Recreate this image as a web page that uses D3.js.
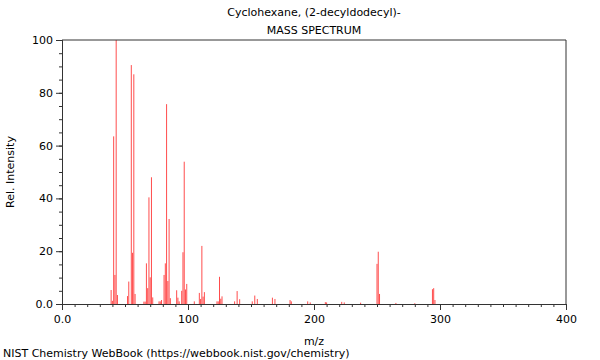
<!DOCTYPE html>
<html>
<head>
<meta charset="utf-8">
<script src="https://cdn.jsdelivr.net/npm/d3@7"></script>
<style>
  body { margin: 0; background: #fff; }
  text { font-family: "DejaVu Sans", sans-serif; }
</style>
</head>
<body>
<div id="graph"></div>
<script>
// Peak list
const mz = [39, 40, 41, 42, 43, 44, 52, 53, 55, 56, 57, 58, 65, 66, 67, 68, 69, 70, 71, 72,
  77, 78, 79, 81, 82, 83, 84, 85, 86, 91, 92, 93, 95, 96, 97, 98, 99, 105, 109, 110, 111, 112, 113,
  123, 124, 125, 126, 127, 137, 139, 141, 151, 153, 155, 167, 169, 181, 182, 195, 197, 209, 210,
  222, 224, 237, 250, 251, 252, 265, 280, 294, 295, 296]
const intensity = [5.3, 1.2, 63.5, 11, 100, 3.4, 3, 8.5, 90.5, 19.4, 87, 3.8, 0.9, 0.9, 15.4, 6, 40.4, 10.1, 48, 2.5,
  1, 1, 1.5, 11, 15.4, 75.7, 8.7, 32.2, 2.2, 5.2, 2.4, 1, 5, 19.6, 53.9, 5.5, 7.6, 1, 4.2, 1.9, 22, 2.8, 4.5,
  1, 1, 10.3, 2, 2.9, 1, 4.9, 1.8, 1, 3.2, 1.9, 2.4, 1.9, 1.5, 1, 1, 0.6, 0.7, 0.6,
  0.8, 0.6, 0.5, 15.2, 19.8, 3.8, 0.4, 0.3, 5.6, 6, 1.5]

const xTicks = [0, 100, 200, 300, 400]
const xTickLabels = ['0.0', '100', '200', '300', '400']
const yTicks = [0, 20, 40, 60, 80, 100]
const yTickLabels = ['0.0', '20', '40', '60', '80', '100']

const title = 'Cyclohexane, (2-decyldodecyl)-'
const subtitle = 'MASS SPECTRUM'
const footer = 'NIST Chemistry WebBook (https://webbook.nist.gov/chemistry)'

const W = 600, H = 360
const margin = { top: 40, right: 34, bottom: 56, left: 62 },
  width = W - margin.left - margin.right,
  height = H - margin.top - margin.bottom

const axisColor = '#333'

const svg = d3.select('#graph')
  .append('svg')
  .attr('width', W)
  .attr('height', H)

const g = svg.append('g')
  .attr('transform', 'translate(' + margin.left + ',' + margin.top + ')')

const x = d3.scaleLinear().domain([0, 400]).range([0, width])
const y = d3.scaleLinear().domain([0, 100]).range([height, 0])

// Peaks
g.selectAll('.peak')
  .data(mz)
  .enter()
  .append('line')
  .attr('class', 'peak')
  .attr('x1', d => x(d))
  .attr('x2', d => x(d))
  .attr('y1', y(0))
  .attr('y2', (d, i) => y(intensity[i]))
  .attr('stroke', '#ff0000')
  .attr('stroke-opacity', 0.7)
  .attr('stroke-width', 1)

// X axis: minor ticks every 10, major every 100
const xAxis = g.append('g').attr('transform', 'translate(0,' + height + ')')
xAxis.call(d3.axisBottom(x).tickValues(d3.range(0, 401, 10)).tickSize(3).tickFormat(''))
const xMajor = g.append('g').attr('transform', 'translate(0,' + height + ')')
xMajor.call(d3.axisBottom(x).tickValues(xTicks).tickSize(6).tickPadding(5)
  .tickFormat((d, i) => xTickLabels[i]))

// Y axis: minor ticks every 5, major every 20
const yAxis = g.append('g')
yAxis.call(d3.axisLeft(y).tickValues(d3.range(0, 101, 5)).tickSize(3).tickFormat(''))
const yMajor = g.append('g')
yMajor.call(d3.axisLeft(y).tickValues(yTicks).tickSize(6).tickPadding(3)
  .tickFormat((d, i) => yTickLabels[i]))

g.selectAll('.domain').attr('stroke', axisColor)
g.selectAll('.tick line').attr('stroke', axisColor)
g.selectAll('.tick text').attr('fill', '#000').style('font-size', '11px')

// Top and right frame lines
g.append('line').attr('x1', 0).attr('x2', width).attr('y1', 0).attr('y2', 0).attr('stroke', axisColor)
g.append('line').attr('x1', width).attr('x2', width).attr('y1', 0).attr('y2', height).attr('stroke', axisColor)

// Titles
svg.append('text').attr('x', margin.left + width / 2).attr('y', 16)
  .attr('text-anchor', 'middle').style('font-size', '11px').text(title)
svg.append('text').attr('x', margin.left + width / 2).attr('y', 34)
  .attr('text-anchor', 'middle').style('font-size', '11px').text(subtitle)

// Axis labels
svg.append('text').attr('x', margin.left + width / 2).attr('y', 345)
  .attr('text-anchor', 'middle').style('font-size', '11px').text('m/z')
svg.append('text')
  .attr('transform', 'translate(14,' + (margin.top + height / 2) + ') rotate(-90)')
  .attr('text-anchor', 'middle').style('font-size', '11px').text('Rel. Intensity')

svg.append('text').attr('x', 3).attr('y', 357).style('font-size', '11px').text(footer)
</script>
</body>
</html>
